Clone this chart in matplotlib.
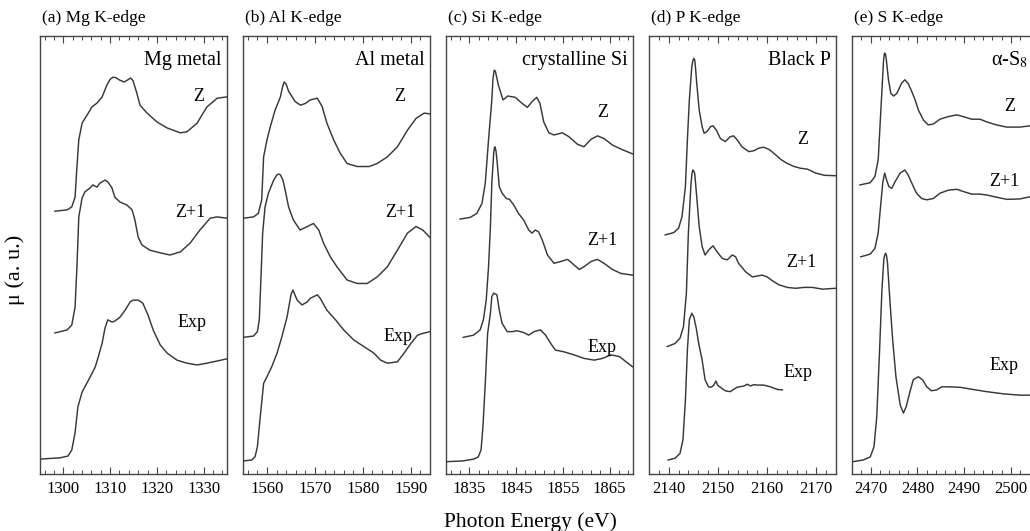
import numpy as np
import matplotlib
matplotlib.use("Agg")
import matplotlib.pyplot as plt
from matplotlib.ticker import AutoMinorLocator, NullLocator

plt.rcParams['font.family'] = ['Liberation Serif', 'DejaVu Serif']
plt.rcParams['mathtext.fontset'] = 'stix'

# ---- data (energy in eV, mu in arb. units) ----
# (a) Mg K-edge
mg_z_e = [1298.2, 1300.8, 1301.8, 1302.5, 1302.9, 1303.3, 1304.0, 1305.1, 1306.1, 1307.2, 1308.3, 1309.3, 1310.0, 1310.6, 1311.2, 1312.1,
          1313.0, 1313.8, 1314.4, 1314.9, 1315.7, 1316.4, 1317.9, 1320.0, 1322.2, 1325.0, 1326.4, 1328.6, 1330.7, 1332.9, 1335.0]
mg_z_mu = [0, .03, .10, .32, 1.01, 1.63, 2.01, 2.20, 2.38, 2.47, 2.61, 2.88, 3.01, 3.06, 3.05, 2.99,
           2.95, 3.00, 3.04, 2.98, 2.70, 2.42, 2.24, 2.04, 1.90, 1.79, 1.81, 2.01, 2.38, 2.58, 2.61]
mg_z1_e = [1298.2, 1300.8, 1301.8, 1302.5, 1302.9, 1303.3, 1304.0, 1304.6, 1305.7, 1306.3, 1307.2, 1307.8, 1308.9, 1309.5, 1310.4,
           1311.0, 1312.1, 1313.6, 1314.7, 1315.3, 1316.0, 1316.8, 1318.5, 1320.7, 1322.8, 1325.0, 1327.1, 1329.2, 1331.4, 1332.9, 1335.0]
mg_z1_mu = [0, .07, .18, .59, 1.51, 2.65, 3.08, 3.22, 3.31, 3.38, 3.33, 3.42, 3.49, 3.45, 3.31,
            3.10, 2.99, 2.92, 2.81, 2.58, 2.19, 2.01, 1.89, 1.83, 1.78, 1.85, 2.05, 2.35, 2.62, 2.65, 2.62]
mg_exp_e = [1295.0, 1299.3, 1301.0, 1301.8, 1302.5, 1303.1, 1304.0, 1304.6, 1305.7, 1306.8, 1307.4, 1308.3, 1308.9, 1309.5, 1310.4, 1311.0,
            1312.1, 1313.2, 1314.3, 1314.9, 1316.0, 1317.0, 1318.1, 1319.2, 1320.7, 1322.2, 1324.3, 1326.4, 1328.6, 1330.7, 1332.9, 1335.0]
mg_exp_mu = [0, .03, .07, .21, .60, 1.19, 1.53, 1.65, 1.87, 2.10, 2.31, 2.65, 2.99, 3.18, 3.13, 3.15,
             3.24, 3.40, 3.59, 3.63, 3.63, 3.56, 3.29, 2.95, 2.61, 2.42, 2.26, 2.19, 2.15, 2.19, 2.24, 2.29]

# (b) Al K-edge
al_z_e = [1555.1, 1557.2, 1558.2, 1558.9, 1559.3, 1560.0, 1560.7, 1561.7, 1562.8, 1563.3, 1563.6, 1564.0, 1564.5, 1565.9, 1567.0, 1568.0, 1569.0,
          1570.5, 1571.5, 1572.5, 1573.9, 1575.3, 1576.7, 1578.8, 1581.3, 1583.0, 1585.1, 1587.2, 1589.3, 1591.1, 1592.8, 1594.0]
al_z_mu = [0, .03, .11, .42, 1.40, 1.79, 2.09, 2.47, 2.77, 3.02, 3.11, 3.06, 2.90, 2.66, 2.58, 2.62, 2.70,
           2.74, 2.55, 2.17, 1.79, 1.48, 1.25, 1.18, 1.18, 1.25, 1.40, 1.63, 2.01, 2.28, 2.40, 2.38]
al_z1_e = [1555.1, 1557.2, 1558.0, 1558.4, 1558.7, 1559.1, 1559.6, 1560.3, 1561.4, 1562.0, 1562.4, 1562.8, 1563.3, 1563.8, 1564.5, 1565.5,
           1566.9, 1568.4, 1569.7, 1570.8, 1571.8, 1573.2, 1574.6, 1576.7, 1578.8, 1580.9, 1583.0, 1585.1, 1587.2, 1589.3, 1591.1,
           1592.5, 1594.0]
al_z1_mu = [0, .03, .13, .40, 1.23, 2.38, 2.98, 3.29, 3.59, 3.70, 3.73, 3.71, 3.60, 3.36, 2.98, 2.68,
            2.45, 2.53, 2.60, 2.45, 2.15, 1.84, 1.61, 1.31, 1.23, 1.23, 1.38, 1.61, 1.99, 2.38, 2.53,
            2.45, 2.28]
al_exp_e = [1555.1, 1556.8, 1557.5, 1558.0, 1558.6, 1559.3, 1560.0, 1561.0, 1562.1, 1563.1, 1564.2, 1565.0, 1565.4, 1566.3, 1567.3, 1568.4, 1569.0,
            1570.5, 1571.1, 1572.5, 1574.3, 1576.0, 1578.1, 1580.2, 1582.3, 1583.7, 1585.1, 1587.2, 1588.6, 1590.0, 1591.4, 1592.5, 1594.0]
al_exp_mu = [0, .02, .09, .32, 1.01, 1.77, 1.92, 2.15, 2.46, 2.83, 3.29, 3.79, 3.90, 3.67, 3.56, 3.63, 3.71,
             3.79, 3.71, 3.44, 3.22, 2.99, 2.76, 2.61, 2.46, 2.30, 2.23, 2.26, 2.46, 2.68, 2.87, 2.91, 2.95]

# (c) Si K-edge
si_z_e = [1833.0, 1835.2, 1836.6, 1837.7, 1838.4, 1839.1, 1839.8, 1840.05, 1840.3, 1840.55, 1840.8, 1841.2, 1842.2, 1843.2, 1844.8, 1846.3,
          1847.4, 1848.4, 1849.4, 1850.1, 1850.9, 1852.0, 1853.1, 1854.9, 1856.3, 1858.1, 1859.5, 1861.0, 1862.4, 1863.8, 1865.6,
          1867.8, 1869.9]
si_z_mu = [0, .04, .13, .36, .82, 1.81, 2.72, 3.20, 3.40, 3.38, 3.26, 3.06, 2.72, 2.81, 2.78, 2.64,
           2.55, 2.68, 2.78, 2.64, 2.22, 1.97, 1.92, 1.97, 1.88, 1.71, 1.65, 1.82, 1.90, 1.84, 1.69,
           1.58, 1.49]
si_z1_e = [1833.7, 1835.9, 1837.3, 1838.0, 1838.6, 1839.1, 1839.5, 1839.8, 1840.2, 1840.35, 1840.5, 1840.7, 1840.9, 1841.4, 1842.0, 1842.9,
           1843.6, 1844.5, 1845.5, 1846.6, 1847.7, 1848.4, 1849.1, 1849.8, 1850.6, 1851.7, 1853.1, 1854.5, 1856.0, 1857.0, 1858.5,
           1859.5, 1861.0, 1862.4, 1863.8, 1865.6, 1867.4, 1869.9]
si_z1_mu = [0, .05, .17, .40, .85, 1.61, 2.53, 3.52, 4.20, 4.33, 4.35, 4.25, 4.05, 3.44, 3.29, 3.17,
            3.15, 3.02, 2.83, 2.68, 2.45, 2.38, 2.45, 2.41, 2.22, 1.88, 1.69, 1.73, 1.78, 1.69, 1.55,
            1.61, 1.73, 1.78, 1.69, 1.55, 1.46, 1.42]
si_exp_e = [1830.0, 1833.7, 1835.9, 1836.9, 1837.5, 1837.9, 1838.4, 1838.9, 1839.5, 1839.8, 1840.2, 1840.9, 1841.4, 1842.0, 1843.1, 1844.1,
            1845.2, 1846.6, 1847.7, 1848.8, 1850.2, 1851.3, 1852.4, 1853.4, 1855.2, 1857.4, 1859.5, 1861.7, 1863.5, 1865.3, 1867.1,
            1868.9, 1869.9]
si_exp_mu = [0, .02, .06, .11, .27, .80, 1.79, 2.93, 3.39, 3.77, 3.85, 3.81, 3.46, 3.16, 2.97, 2.97,
             2.99, 2.95, 2.89, 2.97, 3.01, 2.89, 2.70, 2.55, 2.51, 2.44, 2.36, 2.32, 2.36, 2.44, 2.40,
             2.25, 2.17]

# (d) P K-edge
p_z_e = [2139.3, 2141.0, 2142.0, 2142.7, 2143.4, 2143.8, 2144.2, 2144.7, 2144.9, 2145.1, 2145.3, 2145.4, 2145.7, 2146.2, 2146.8, 2147.2,
         2147.8, 2148.5, 2149.0, 2149.7, 2150.5, 2151.5, 2152.5, 2153.2, 2153.9, 2154.9, 2156.3, 2157.3, 2158.3, 2159.3, 2160.4,
         2161.4, 2162.8, 2164.1, 2165.5, 2166.8, 2168.2, 2169.9, 2171.6, 2173.9]
p_z_mu = [0, .05, .15, .41, 1.10, 2.17, 3.08, 3.84, 3.97, 4.03, 3.99, 3.88, 3.46, 2.85, 2.47, 2.32,
          2.36, 2.47, 2.49, 2.39, 2.20, 2.13, 2.24, 2.26, 2.17, 2.01, 1.90, 1.92, 1.98, 2.00, 1.95,
          1.86, 1.72, 1.63, 1.56, 1.52, 1.50, 1.41, 1.36, 1.35]
p_z1_e = [2139.7, 2141.3, 2142.3, 2143.0, 2143.6, 2144.0, 2144.5, 2144.7, 2144.9, 2145.1, 2145.3, 2145.7, 2146.2, 2146.8, 2147.4, 2148.1,
          2149.0, 2149.8, 2150.9, 2151.9, 2152.9, 2153.6, 2154.2, 2155.6, 2157.0, 2158.0, 2159.0, 2160.0, 2161.1, 2162.4, 2164.1,
          2165.8, 2167.5, 2169.2, 2171.3, 2173.9]
p_z1_mu = [0, .07, .19, .45, 1.22, 2.59, 3.65, 3.92, 4.03, 4.01, 3.94, 3.42, 2.74, 2.28, 2.09, 2.20,
           2.30, 2.17, 2.01, 1.98, 2.09, 2.05, 1.90, 1.71, 1.59, 1.61, 1.63, 1.59, 1.50, 1.41, 1.35,
           1.33, 1.35, 1.35, 1.31, 1.33]
p_exp_e = [2139.9, 2141.3, 2142.3, 2142.9, 2143.4, 2143.8, 2144.2, 2144.7, 2145.1, 2145.6, 2146.1, 2146.8, 2147.4, 2148.1, 2148.6, 2149.1,
           2149.6, 2150.0, 2150.5, 2151.5, 2152.5, 2153.9, 2155.3, 2156.0, 2156.6, 2157.3, 2158.0, 2159.3, 2160.7, 2161.4, 2162.1, 2163.1]
p_exp_mu = [0, .04, .15, .46, 1.37, 2.51, 3.20, 3.35, 3.27, 3.01, 2.66, 2.28, 1.83, 1.67, 1.66, 1.70,
            1.80, 1.70, 1.66, 1.58, 1.56, 1.66, 1.69, 1.73, 1.69, 1.72, 1.71, 1.71, 1.67, 1.64, 1.61, 1.60]

# (e) S K-edge
s_z_e = [2467.7, 2469.9, 2470.9, 2471.6, 2472.1, 2472.6, 2472.75, 2472.95, 2473.15, 2473.3, 2473.8, 2474.3, 2474.9, 2475.6, 2476.6, 2477.3,
         2478.0, 2478.8, 2479.5, 2480.2, 2481.3, 2482.3, 2483.4, 2484.8, 2486.6, 2488.4, 2489.8, 2491.6, 2493.4, 2494.8, 2496.9,
         2499.1, 2501.9, 2504.1, 2506.0]
s_z_mu = [0, .05, .19, .57, 1.56, 2.55, 2.85, 3.01, 2.99, 2.90, 2.40, 2.09, 2.03, 2.09, 2.32, 2.40,
          2.32, 2.13, 1.94, 1.71, 1.48, 1.37, 1.39, 1.50, 1.56, 1.60, 1.56, 1.50, 1.50, 1.44, 1.37,
          1.32, 1.32, 1.35, 1.36]
s_z1_e = [2467.9, 2469.9, 2470.9, 2471.6, 2472.1, 2472.6, 2473.0, 2473.4, 2473.9, 2474.5, 2475.2, 2476.3, 2477.3, 2478.0, 2478.8, 2479.8,
          2480.9, 2482.0, 2483.4, 2484.8, 2486.6, 2488.4, 2489.8, 2491.6, 2493.4, 2494.8, 2496.9, 2499.1, 2501.9, 2504.1, 2506.0]
s_z1_mu = [0, .06, .19, .54, 1.14, 1.71, 1.91, 1.75, 1.60, 1.56, 1.71, 1.91, 1.98, 1.87, 1.68, 1.45,
           1.33, 1.30, 1.33, 1.45, 1.52, 1.54, 1.49, 1.43, 1.43, 1.41, 1.36, 1.31, 1.32, 1.37, 1.39]
s_exp_e = [2466.1, 2468.4, 2469.9, 2470.7, 2471.3, 2471.9, 2472.4, 2472.8, 2473.0, 2473.2, 2473.4, 2473.6, 2474.1, 2474.7, 2475.4, 2476.3,
           2477.0, 2477.6, 2478.3, 2479.1, 2480.2, 2481.1, 2482.0, 2483.0, 2484.1, 2485.2, 2486.6, 2489.1, 2491.9, 2494.8, 2498.4,
           2501.9, 2504.1, 2506.0]
s_exp_mu = [0, .04, .11, .34, 1.03, 2.55, 3.92, 4.61, 4.72, 4.76, 4.70, 4.53, 3.69, 2.78, 1.94, 1.30,
            1.11, 1.26, 1.56, 1.87, 1.94, 1.87, 1.71, 1.62, 1.64, 1.71, 1.71, 1.70, 1.65, 1.60, 1.55,
            1.52, 1.52, 1.52]

panel_titles = ["(a) Mg K-edge", "(b) Al K-edge", "(c) Si K-edge", "(d) P K-edge", "(e) S K-edge"]
samples = ["Mg metal", "Al metal", "crystalline Si", "Black P", "α-S$_8$"]
curve_names = ["Z", "Z+1", "Exp"]
xlims = [(1295, 1335), (1555, 1594), (1830, 1870), (2136, 2174), (2466, 2506)]
xticks = [[1300, 1310, 1320, 1330], [1560, 1570, 1580, 1590], [1835, 1845, 1855, 1865],
          [2140, 2150, 2160, 2170], [2470, 2480, 2490, 2500]]

curves = [
    [(mg_z_e, mg_z_mu), (mg_z1_e, mg_z1_mu), (mg_exp_e, mg_exp_mu)],
    [(al_z_e, al_z_mu), (al_z1_e, al_z1_mu), (al_exp_e, al_exp_mu)],
    [(si_z_e, si_z_mu), (si_z1_e, si_z1_mu), (si_exp_e, si_exp_mu)],
    [(p_z_e, p_z_mu), (p_z1_e, p_z1_mu), (p_exp_e, p_exp_mu)],
    [(s_z_e, s_z_mu), (s_z1_e, s_z1_mu), (s_exp_e, s_exp_mu)],
]
# vertical stacking offsets (Z, Z+1, Exp)
offsets = [[6.00, 3.22, 0.34], [5.84, 3.12, 0.30], [5.82, 3.12, 0.28], [5.46, 2.91, 0.32], [6.60, 4.96, 0.28]]

# label positions in axes fraction (Z, Z+1, Exp)
label_pos = [
    [(0.85, 0.861), (0.805, 0.598), (0.815, 0.347)],
    [(0.84, 0.861), (0.84, 0.598), (0.83, 0.313)],
    [(0.84, 0.826), (0.834, 0.534), (0.834, 0.288)],
    [(0.824, 0.763), (0.813, 0.482), (0.797, 0.231)],
    [(0.845, 0.838), (0.813, 0.667), (0.813, 0.247)],
]
# right edge of the sample name (the last panel runs past the figure edge)
sample_x = [0.97, 0.97, 0.97, 0.97, 0.94]

W, H = 1030, 531
fig = plt.figure(figsize=(W / 100, H / 100), dpi=100)
lefts = [40, 243, 446, 649, 852]
ax_w, ax_top, ax_bot = 187, 36, 474
line_col = "#383838"

for i in range(5):
    ax = fig.add_axes([lefts[i] / W, (H - ax_bot) / H, ax_w / W, (ax_bot - ax_top) / H])
    for j in range(3):
        e, mu = curves[i][j]
        ax.plot(e, np.array(mu) + offsets[i][j], color=line_col, lw=1.05, solid_joinstyle="round")
        ax.text(label_pos[i][j][0], label_pos[i][j][1], curve_names[j], transform=ax.transAxes,
                ha="center", va="center", fontsize=13)
    ax.text(sample_x[i], 0.945, samples[i], transform=ax.transAxes, ha="right", va="center", fontsize=14.5)
    ax.text(0.01, 1.041, panel_titles[i], transform=ax.transAxes, ha="left", va="center", fontsize=12.5)
    ax.set_xlim(*xlims[i])
    ax.set_ylim(0, 10)
    ax.set_xticks(xticks[i])
    ax.xaxis.set_minor_locator(AutoMinorLocator(5))
    ax.yaxis.set_major_locator(NullLocator())
    ax.tick_params(axis="x", which="both", direction="in", top=True, bottom=True, labelsize=12, pad=5,
                   color="#444444")
    ax.tick_params(axis="x", which="major", length=5, width=0.8)
    ax.tick_params(axis="x", which="minor", length=3, width=0.7)
    for s in ax.spines.values():
        s.set_color("#444444")
        s.set_linewidth(1.0)

fig.text(15 / W, 1 - 270 / H, "μ (a. u.)", rotation=90, ha="center", va="center", fontsize=16)
fig.text(530 / W, 1 - 522 / H, "Photon Energy (eV)", ha="center", va="center", fontsize=15.5)

fig.savefig("out.png", dpi=100)
